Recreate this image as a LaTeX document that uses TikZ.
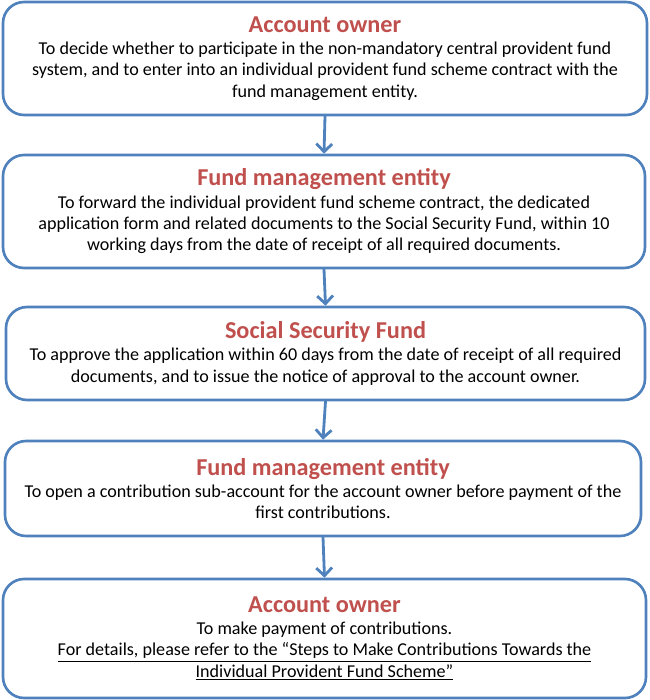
\documentclass[tikz,border=0pt]{standalone}
\usepackage{fontspec}
\setmainfont{Carlito}
\usepackage{tikz}
\usetikzlibrary{arrows.meta,positioning}
\definecolor{boxblue}{HTML}{4F81BD}
\definecolor{titlered}{HTML}{C0504D}

\begin{document}
\begin{tikzpicture}[line cap=round,line join=round,
  stepbox/.style={draw=boxblue,line width=1.5pt,rounded corners=12pt,fill=white,
    align=center,inner sep=0pt,font=\fontsize{10.3}{12.2}\selectfont},
  flow/.style={draw=boxblue,line width=1.6pt,-{Straight Barb[length=4.5pt,width=9pt,line width=1.6pt]}}]
\path[use as bounding box] (0,0) rectangle (13,-14);
% the five steps
\node[stepbox,minimum width=12.88cm,minimum height=2.26cm] (owner) at (6.50,-1.17)
  {{\fontsize{13.8}{13}\selectfont\bfseries\color{titlered}Account owner}\\[0.4pt]
   To decide whether to participate in the non-mandatory central provident fund\\
   system, and to enter into an individual provident fund scheme contract with the\\
   fund management entity.};
\node[stepbox,minimum width=12.84cm,minimum height=2.26cm] (entity) at (6.48,-4.23)
  {{\fontsize{13.8}{13}\selectfont\bfseries\color{titlered}Fund management entity}\\[0.4pt]
   To forward the individual provident fund scheme contract, the dedicated\\
   application form and related documents to the Social Security Fund, within 10\\
   working days from the date of receipt of all required documents.};
\node[stepbox,minimum width=12.78cm,minimum height=1.86cm] (ssf) at (6.51,-7.07)
  {{\fontsize{13.8}{13}\selectfont\bfseries\color{titlered}Social Security Fund}\\[0.4pt]
   To approve the application within 60 days from the date of receipt of all required\\
   documents, and to issue the notice of approval to the account owner.};
\node[stepbox,minimum width=12.72cm,minimum height=1.90cm] (subacct) at (6.46,-9.77)
  {{\fontsize{13.8}{13}\selectfont\bfseries\color{titlered}Fund management entity}\\[0.4pt]
   To open a contribution sub-account for the account owner before payment of the\\
   first contributions.};
\node[stepbox,minimum width=12.86cm,minimum height=2.38cm] (payment) at (6.49,-12.77)
  {{\fontsize{13.8}{13}\selectfont\bfseries\color{titlered}Account owner}\\[0.4pt]
   To make payment of contributions.\\
   \underline{For details, please refer to the “Steps to Make Contributions Towards the}\\
   \underline{Individual Provident Fund Scheme”}};
% arrows between the steps
\draw[flow] (owner.south) -- (entity.north);
\draw[flow] (entity.south) -- (ssf.north);
\draw[flow] (ssf.south) -- (subacct.north);
\draw[flow] (subacct.south) -- (payment.north);
\end{tikzpicture}
\end{document}
